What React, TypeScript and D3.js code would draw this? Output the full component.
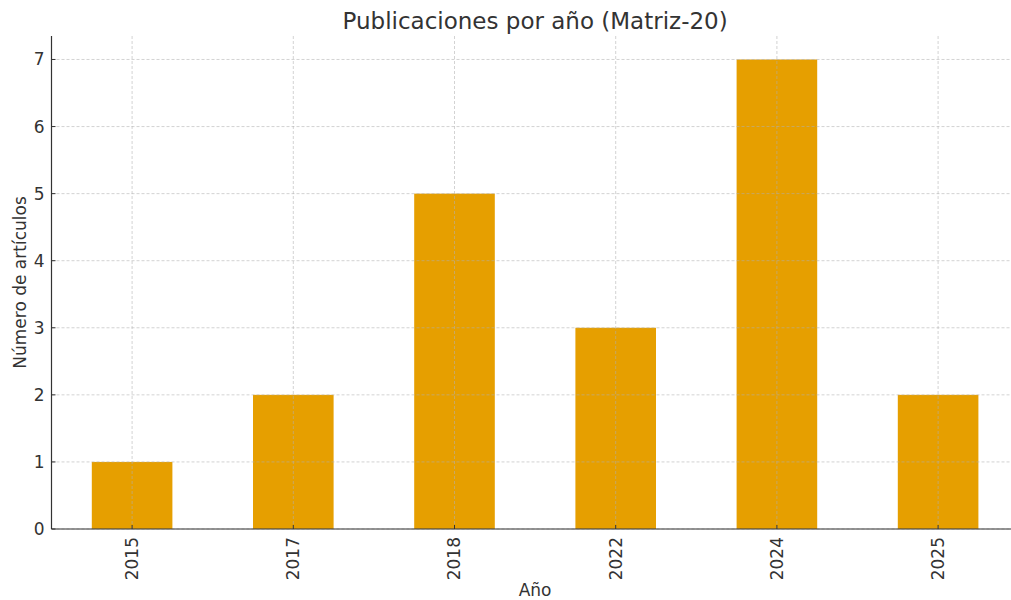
import React from "react";
import { scaleBand, scaleLinear } from "d3";

const years = ["2015", "2017", "2018", "2022", "2024", "2025"];
const counts = [1, 2, 5, 3, 7, 2];
const yTicks = [0, 1, 2, 3, 4, 5, 6, 7];

const width = 1011;
const height = 600;
const margin = { top: 36, left: 51.5, bottom: 71 };
// the axes run a bit past the right edge of the picture
const plotRight = 1018.7;
const font = "DejaVu Sans, sans-serif";
const textColor = "#333333";

const App = () => {
  const innerBottom = height - margin.bottom;

  const xScale = scaleBand()
    .domain(years)
    .range([margin.left, plotRight])
    .paddingInner(0.5)
    .paddingOuter(0.25);

  const yScale = scaleLinear()
    .domain([0, 7.35])
    .range([innerBottom, margin.top]);

  const center = (y: string) => (xScale(y) ?? 0) + xScale.bandwidth() / 2;
  const midX = (margin.left + plotRight) / 2;

  return (
    <svg
      width={width}
      height={height}
      style={{ position: "absolute", left: 0, top: 0, background: "white" }}
      fontFamily={font}
    >
      <rect width={width} height={height} fill="white" />

      {/* bars */}
      {years.map((y, i) => (
        <rect
          key={y}
          x={xScale(y)}
          y={yScale(counts[i])}
          width={xScale.bandwidth()}
          height={innerBottom - yScale(counts[i])}
          fill="#E69F00"
        />
      ))}

      {/* grid */}
      {yTicks.map((t) => (
        <line
          key={"gy" + t}
          x1={margin.left}
          x2={plotRight}
          y1={yScale(t)}
          y2={yScale(t)}
          stroke="#b0b0b0"
          strokeOpacity={0.7}
          strokeWidth={0.8}
          strokeDasharray="3,2"
        />
      ))}
      {years.map((y) => (
        <line
          key={"gx" + y}
          x1={center(y)}
          x2={center(y)}
          y1={margin.top}
          y2={innerBottom}
          stroke="#b0b0b0"
          strokeOpacity={0.7}
          strokeWidth={0.8}
          strokeDasharray="3,2"
        />
      ))}

      {/* spines */}
      <line x1={margin.left} x2={margin.left} y1={margin.top} y2={innerBottom} stroke={textColor} strokeWidth={1.2} />
      <line x1={margin.left} x2={plotRight} y1={innerBottom} y2={innerBottom} stroke={textColor} strokeWidth={1.2} />

      {/* y ticks */}
      {yTicks.map((t) => (
        <g key={"ty" + t} transform={`translate(${margin.left}, ${yScale(t)})`}>
          <line x1={0} x2={4} stroke={textColor} strokeWidth={1} />
          <text x={-7} dy="0.35em" textAnchor="end" fontSize={17} fill={textColor}>
            {t}
          </text>
        </g>
      ))}

      {/* x ticks */}
      {years.map((y) => (
        <g key={"tx" + y} transform={`translate(${center(y)}, ${innerBottom})`}>
          <line y1={0} y2={-4} stroke={textColor} strokeWidth={1} />
          <text
            transform="rotate(-90)"
            x={-8}
            dy="0.35em"
            textAnchor="end"
            fontSize={17}
            fill={textColor}
          >
            {y}
          </text>
        </g>
      ))}

      {/* labels */}
      <text x={midX} y={29} textAnchor="middle" fontSize={23} fill={textColor}>
        Publicaciones por año (Matriz-20)
      </text>
      <text x={midX} y={596} textAnchor="middle" fontSize={17} fill={textColor}>
        Año
      </text>
      <text
        transform={`translate(26, ${(margin.top + innerBottom) / 2}) rotate(-90)`}
        textAnchor="middle"
        fontSize={17}
        fill={textColor}
      >
        Número de artículos
      </text>
    </svg>
  );
};

export default App;
